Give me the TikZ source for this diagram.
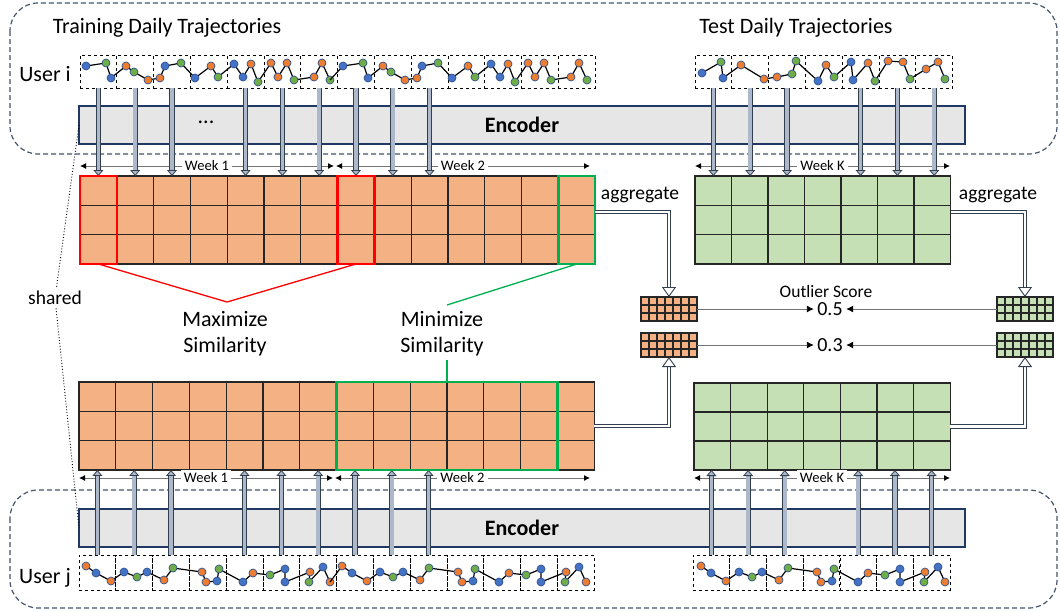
\documentclass[tikz,border=0pt]{standalone}
\usepackage{fontspec}
\setmainfont{Carlito}
\usetikzlibrary{arrows.meta, calc, positioning}

\definecolor{orangecell}{HTML}{F4B183}
\definecolor{greencell}{HTML}{C5E0B4}
\definecolor{encfill}{HTML}{E7E6E6}
\definecolor{encedge}{HTML}{203864}
\definecolor{regionc}{HTML}{44546A}
\definecolor{flowfill}{HTML}{ADB9CA}
\definecolor{flowedge}{HTML}{323F4F}
\definecolor{trajb}{HTML}{4472C4}
\definecolor{trajo}{HTML}{ED7D31}
\definecolor{trajg}{HTML}{70AD47}
\definecolor{dotedge}{HTML}{2F528F}
\definecolor{hlred}{HTML}{FF0000}
\definecolor{hlgreen}{HTML}{00B050}

\tikzset{
  region/.style={draw=regionc, dash pattern=on 5pt off 3pt, line width=1.2pt, rounded corners=28pt},
  daybox/.style={draw, dashed, line width=0.8pt, minimum width=36.8, minimum height=33, anchor=north west, inner sep=0, outer sep=0},
  trajline/.style={draw=black, line width=1.2pt},
  dot/.style={draw=dotedge, line width=0.7pt},
  encoder/.style={draw=encedge, fill=encfill, line width=1.5pt, minimum width=886, minimum height=38, anchor=north west, inner sep=0, outer sep=0},
  mapbox/.style={draw=black!85, line width=1.1pt, anchor=north west, inner sep=0, outer sep=0},
  cellline/.style={draw=black!85, line width=1.1pt},
  hl/.style={line width=2.4pt, anchor=north west, inner sep=0, outer sep=0, minimum height=88},
  span/.style={draw=black!55, line width=0.9pt, {Latex[color=black, length=6pt, width=6pt]}-{Latex[color=black, length=6pt, width=6pt]}},
  week/.style={midway, fill=white, inner sep=3pt, font=\fontsize{14.5}{16}\selectfont},
  flow/.style={draw=flowedge, line width=0.8pt, double=flowfill, double distance=3.6pt, -{Triangle[width=10pt, length=6pt, fill=flowfill]}},
  agg/.style={draw=flowedge, line width=0.9pt, double=white, double distance=2.6pt, -{Triangle[open, width=14pt, length=10pt]}},
  score/.style={draw=black!55, line width=0.9pt, -{Latex[color=black, length=7pt, width=7pt]}},
  shared/.style={draw=black, dotted, line width=0.9pt}
}

% feature map: name, x, y, columns, rows, cell width, cell height, fill
\newcommand{\featmap}[8]{%
  \node[mapbox, fill=#8, minimum width={#4*#6}, minimum height={#5*#7}] (#1) at (#2,#3) {};
  \pgfmathtruncatemacro{\lastc}{#4-1}
  \pgfmathtruncatemacro{\lastr}{#5-1}
  \foreach \i in {1,...,\lastc} \draw[cellline] ($(#1.north west)+(\i*#6,0)$) -- ++(0,#5*#7);
  \foreach \j in {1,...,\lastr} \draw[cellline] ($(#1.north west)+(0,\j*#7)$) -- ++(#4*#6,0);
}

% one week of a trajectory: shift, start point, points x/y/colour
\newcommand{\trajweek}[3]{%
  \begin{scope}[shift={(#1,0)}]
    \draw[trajline] (#2) \foreach \x/\y/\c in #3 { -- (\x,\y)};
    \foreach \x/\y/\c in #3 {
      \filldraw[dot, fill=traj\c] (\x,\y) circle[radius=4];
      \coordinate (tail) at (\x,\y);
    }
  \end{scope}
}

\def\weektopi{86/66/b, 106/63/g, 111/78/b, 126/66/o, 134/72/g, 148/80/o, 160/78/o, 165/66/b, 181/63/g, 195/78/b, 211/66/o, 218/77/g, 234/64/b, 243/77/b, 251/64/o, 258/82/g, 271/63/o, 278/77/o, 287/63/o, 294/80/g, 314/77/o, 322/63/o, 330/80/g}
\def\weektesti{702/73/b, 721/62/g, 723/78/b, 741/65/o, 764/79/o, 777/77/o, 792/74/g, 796/61/g, 818/81/b, 826/65/o, 834/77/g, 851/62/b, 853/80/b, 868/63/o, 875/81/g, 888/61/o, 903/62/o, 910/79/g, 926/69/o, 938/62/o, 945/79/g}
\def\weekbotj{86/566/o, 96/573/b, 111/581/o, 124/572/b, 137/577/g, 147/572/b, 164/580/o, 173/568/g, 202/572/o, 206/582/o, 217/581/b, 219/569/g, 243/582/b, 253/573/o, 270/575/g, 285/569/b, 285/582/b, 310/572/o, 309/582/g, 323/567/b, 330/582/o}

\begin{document}
\begin{tikzpicture}[x=1pt, y=-1pt, font=\fontsize{22}{26}\selectfont]
    \useasboundingbox (0,0) rectangle (1060,611);

    % Regions
    \draw[region] (10,3) rectangle (1057,154);
    \draw[region] (10,490) rectangle (1057,608);

    % Titles
    \node (TrainTitle) at (167,28) {Training Daily Trajectories};
    \node (TestTitle) at (796,28) {Test Daily Trajectories};
    \node (UserI) at (45,74) {User i};
    \node (UserJ) at (45,578) {User j};

    % Day boxes
    \foreach \k in {1,...,14} {
        \node[daybox] (di\k) at ({80+(\k-1)*36.8},55) {};
        \node[daybox, minimum height=35] (dj\k) at ({79+(\k-1)*36.8},555) {};
    }
    \foreach \k in {1,...,7} {
        \node[daybox] (ti\k) at ({695+(\k-1)*36.8},55) {};
        \node[daybox, minimum height=35] (tj\k) at ({693+(\k-1)*36.7},555) {};
    }

    % Trajectories
    \trajweek{0}{86,66}{\weektopi}
    \trajweek{257}{tail}{\weektopi}
    \trajweek{0}{702,73}{\weektesti}
    \trajweek{0}{86,566}{\weekbotj}
    \trajweek{256}{tail}{\weekbotj}
    \trajweek{615}{86,566}{\weekbotj}

    % Encoders
    \node[encoder] (EncI) at (79,106) {\bfseries Encoder};
    \node[encoder] (EncJ) at (79,509) {\bfseries Encoder};
    \node (Dots) at (206,122) {...};

    % Feature maps
    \featmap{Fi}{80}{176}{14}{3}{36.8}{29.33}{orangecell}
    \featmap{Fj}{79}{382}{14}{3}{36.8}{29.33}{orangecell}
    \featmap{Ti}{695}{176}{7}{3}{36.5}{29.33}{greencell}
    \featmap{Tj}{694}{383}{7}{3}{36.6}{29}{greencell}
    \featmap{Si}{641}{297}{7}{3}{8}{8}{orangecell}
    \featmap{Sj}{641}{333}{7}{3}{8}{8}{orangecell}
    \featmap{Gi}{997}{297}{7}{3}{8}{8}{greencell}
    \featmap{Gj}{997}{333}{7}{3}{8}{8}{greencell}

    % Weeks
    \draw[span] (80,166) -- (334,166) node[week] {Week 1};
    \draw[span] (336,166) -- (590,166) node[week] {Week 2};
    \draw[span] (695,166) -- (950,166) node[week] {Week K};
    \draw[span] (79,478) -- (333,478) node[week] {Week 1};
    \draw[span] (335,478) -- (590,478) node[week] {Week 2};
    \draw[span] (694,478) -- (950,478) node[week] {Week K};

    % Encoder arrows
    \foreach \k in {1,2,3,5,6,7,8,9,10} {
        \draw[flow] (di\k.south) -- (di\k.south |- Fi.north);
        \draw[flow] (dj\k.north) -- (dj\k.north |- Fj.south);
    }
    \foreach \k in {1,2,3,5,6,7} {
        \draw[flow] (ti\k.south) -- (ti\k.south |- Ti.north);
        \draw[flow] (tj\k.north) -- (tj\k.north |- Tj.south);
    }

    % Similarity
    \node[hl, draw=hlred, minimum width=36.8] (MaxA) at (80,176) {};
    \node[hl, draw=hlred, minimum width=36.8] (MaxB) at (337.6,176) {};
    \node[hl, draw=hlgreen, minimum width=36.8] (MinA) at (558.4,176) {};
    \node[hl, draw=hlgreen, minimum width=220.8] (MinB) at (336.6,382) {};
    \coordinate (MaxTip) at (227,302);
    \coordinate (MinTip) at (447,305);
    \draw[hlred, line width=1.3pt] (MaxA.south) -- (MaxTip) -- (MaxB.south);
    \draw[hlgreen, line width=1.3pt] (MinA.south) -- (MinTip);
    \node[align=center] (MaxLbl) at (225,334) {Maximize\\Similarity};
    \node[align=center] (MinLbl) at (442,334) {Minimize\\Similarity};
    \draw[hlgreen, line width=1.3pt] (MinLbl.south -| MinB.north) -- (MinB.north);

    % Aggregation and scores
    \node[font=\fontsize{19.5}{22}\selectfont] (AggL) at (640,195) {aggregate};
    \node[font=\fontsize{19.5}{22}\selectfont] (AggR) at (998,195) {aggregate};
    \draw[agg] ([yshift=8pt]Fi.east) -| (Si.north);
    \draw[agg] (Fj.east) -| (Sj.south);
    \draw[agg] ([yshift=8pt]Ti.east) -| (Gi.north);
    \draw[agg] (Tj.east) -| (Gj.south);
    \node[font=\fontsize{17.5}{20}\selectfont] (Outlier) at (826,291) {Outlier Score};
    \node[font=\fontsize{20}{24}\selectfont] (ScoreI) at (830,309) {0.5};
    \node[font=\fontsize{20}{24}\selectfont] (ScoreJ) at (830,345) {0.3};
    \draw[score] (Si.east) -- (ScoreI);
    \draw[score] (Gi.west) -- (ScoreI);
    \draw[score] (Sj.east) -- (ScoreJ);
    \draw[score] (Gj.west) -- (ScoreJ);

    % Shared encoder
    \node[font=\fontsize{19.5}{22}\selectfont] (Shared) at (55,298) {shared};
    \draw[shared] (EncI.west) -- (Shared);
    \draw[shared] (Shared) -- (EncJ.west);

\end{tikzpicture}
\end{document}
